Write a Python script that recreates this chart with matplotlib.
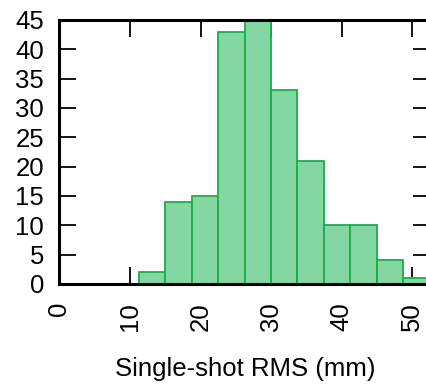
import numpy as np
from matplotlib import pyplot as plt

plt.rcParams['font.family'] = ['Liberation Sans', 'DejaVu Sans']

# histogram of single-shot RMS values
bin_edges = [11.3, 15.0, 18.75, 22.5, 26.25, 29.95, 33.7, 37.45, 41.2, 44.95, 48.7, 52.45]
counts = [2, 14, 15, 43, 45, 33, 21, 10, 10, 4, 1]
xticks = [0, 10, 20, 30, 40, 50]
yticks = [0, 5, 10, 15, 20, 25, 30, 35, 40, 45]

fig = plt.figure(figsize=(4.27, 3.9), dpi=100)
ax = fig.add_axes([0.1393, 0.272, 0.868, 0.677])

edges = np.array(bin_edges)
ax.bar(edges[:-1], counts, width=np.diff(edges), align='edge',
       color='#84d6a3', edgecolor='#1aae4c', linewidth=1.3, zorder=2)

ax.set_xlim(0, 52.55)
ax.set_ylim(0, 45)
ax.set_xticks(xticks)
ax.set_yticks(yticks)
ax.set_xticklabels([str(t) for t in xticks], rotation=90)

for s in ax.spines.values():
    s.set_linewidth(2.2)
    s.set_zorder(3)
ax.tick_params(axis='both', direction='in', length=12, width=1.3,
               top=True, right=True, labelsize=18.5)
ax.tick_params(axis='y', pad=11)
ax.tick_params(axis='x', pad=13)

ax.set_xlabel('Single-shot RMS (mm)', fontsize=18.5, labelpad=19)

fig.savefig('out.png', dpi=100)
